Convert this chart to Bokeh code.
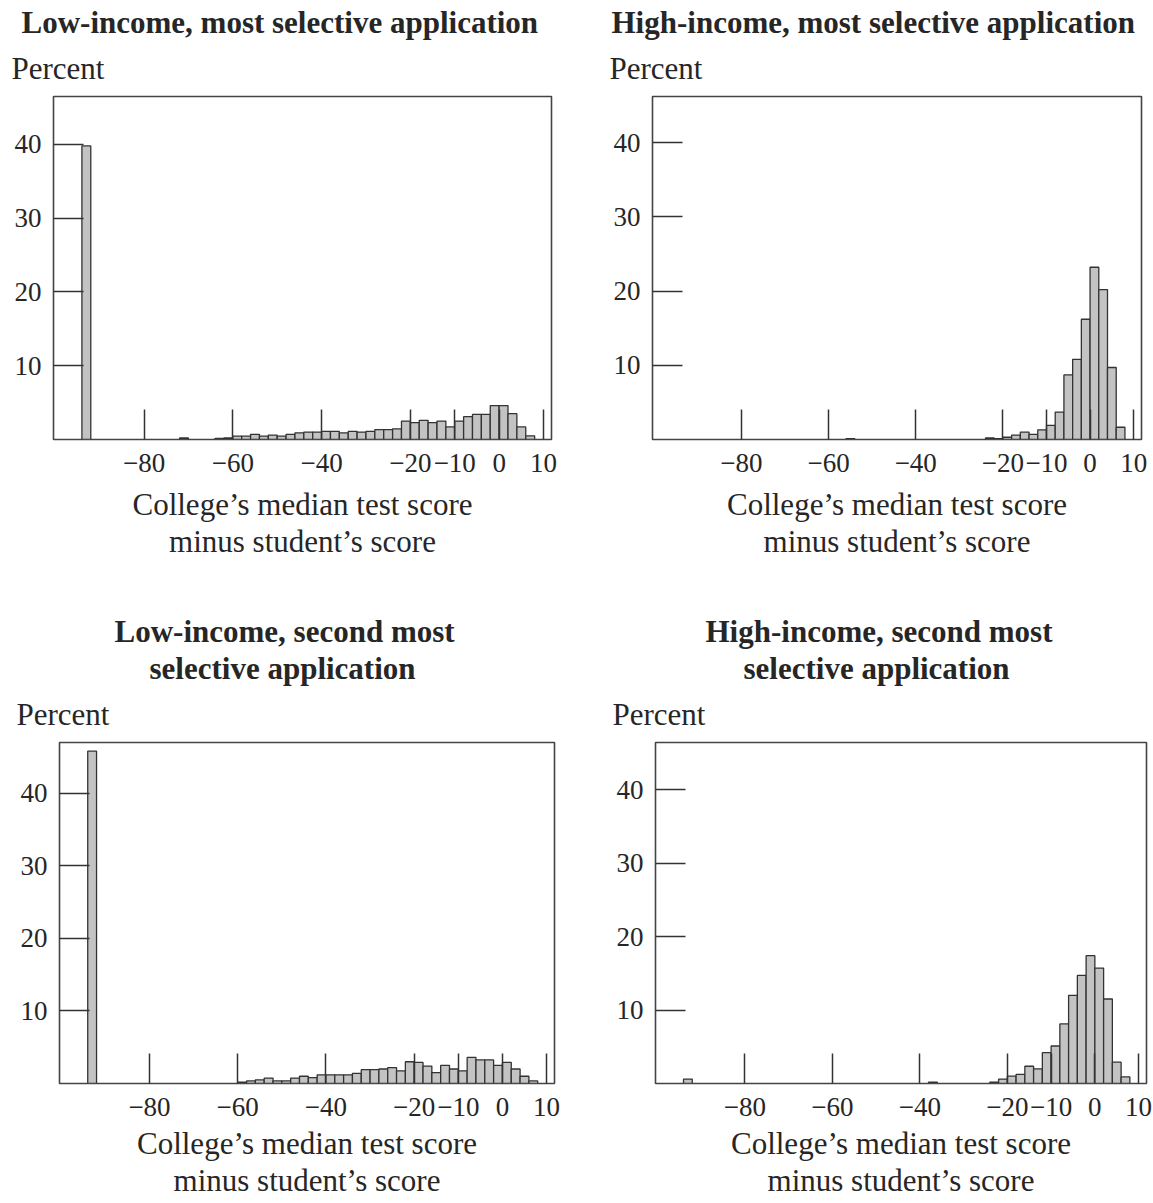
from bokeh.plotting import figure
from bokeh.layouts import column, row
from bokeh.models import Title, FixedTicker, Range1d, ColumnDataSource
from bokeh.embed import file_html
from bokeh.resources import INLINE

# ---------------- data (percent of applications per 2-point bin) ----------------
x_ticks = [-80, -60, -40, -20, -10, 0, 10]
x_tick_labels = ["\u221280", "\u221260", "\u221240", "\u221220", "\u221210", "0", "10"]
y_ticks = [10, 20, 30, 40]
y_tick_labels = ["10", "20", "30", "40"]

# Low-income, most selective application
tl_bin = [-94, -72, -64, -62, -60, -58, -56, -54, -52, -50, -48, -46, -44, -42, -40, -38,
          -36, -34, -32, -30, -28, -26, -24, -22, -20, -18, -16, -14, -12, -10, -8, -6,
          -4, -2, 0, 2, 4, 6]
tl_pct = [39.8, 0.2, 0.15, 0.2, 0.45, 0.45, 0.7, 0.45, 0.6, 0.45, 0.7, 0.9, 1.0, 1.0, 1.1, 1.1,
          0.9, 1.1, 1.0, 1.1, 1.35, 1.35, 1.45, 2.5, 2.3, 2.6, 2.3, 2.5, 1.7, 2.5, 3.1, 3.4,
          3.4, 4.6, 4.6, 3.5, 1.7, 0.5]

# High-income, most selective application
tr_bin = [-56, -24, -22, -20, -18, -16, -14, -12, -10, -8, -6, -4, -2, 0, 2, 4, 6]
tr_pct = [0.1, 0.2, 0.1, 0.3, 0.6, 1.0, 0.7, 1.3, 1.9, 3.7, 8.7, 10.8, 16.2, 23.2, 20.2, 9.7, 1.65]

# Low-income, second most selective application
bl_bin = [-94, -60, -58, -56, -54, -52, -50, -48, -46, -44, -42, -40, -38, -36, -34, -32,
          -30, -28, -26, -24, -22, -20, -18, -16, -14, -12, -10, -8, -6, -4, -2, 0, 2, 4, 6]
bl_pct = [45.8, 0.2, 0.35, 0.5, 0.75, 0.35, 0.35, 0.75, 1.0, 0.8, 1.2, 1.2, 1.2, 1.2, 1.4, 1.9,
          1.9, 2.0, 2.2, 1.75, 3.0, 2.9, 2.4, 1.5, 2.5, 2.0, 1.75, 3.6, 3.25, 3.25, 2.5, 2.9,
          2.0, 1.0, 0.35]

# High-income, second most selective application
br_bin = [-94, -38, -24, -22, -20, -18, -16, -14, -12, -10, -8, -6, -4, -2, 0, 2, 4, 6]
br_pct = [0.6, 0.2, 0.2, 0.6, 1.0, 1.25, 2.35, 2.0, 4.2, 5.1, 8.1, 12.0, 14.7, 17.4, 15.7,
          11.5, 2.9, 0.9]

titles = [["Low-income, most selective application"],
          ["High-income, most selective application"],
          ["Low-income, second most", "selective application"],
          ["High-income, second most", "selective application"]]
y_title = "Percent"
x_title = "College\u2019s median test score\nminus student\u2019s score"

BIN_W = 2
FONT = "Liberation Serif"
TXT = "#262626"
INK = "#333333"


def panel(bins, pct, title_lines, title_offs, w, h, bl, br, bt, bb, ymax, p_off, lab_off):
    p = figure(width=w, height=h, output_backend="svg", toolbar_location=None,
               x_range=Range1d(-100.4, 11.8), y_range=Range1d(0, ymax),
               min_border_left=bl, min_border_right=br, min_border_top=bt,
               min_border_bottom=bb, title=None)
    src = ColumnDataSource(dict(left=bins, right=[b + BIN_W for b in bins], top=pct))
    p.quad(left="left", right="right", bottom=0, top="top", source=src,
           fill_color="#c3c3c3", line_color=INK, line_width=1.3)
    p.grid.visible = False
    p.outline_line_color = "#444444"
    p.outline_line_width = 1.6
    p.outline_line_alpha = 1
    p.background_fill_color = "white"
    p.border_fill_color = "white"

    for ax in (p.xaxis[0], p.yaxis[0]):
        ax.axis_line_color = None
        ax.major_tick_in = 30
        ax.major_tick_out = 0
        ax.minor_tick_line_color = None
        ax.major_tick_line_color = INK
        ax.major_tick_line_width = 1.5
        ax.major_label_text_font = FONT
        ax.major_label_text_font_size = "27px"
        ax.major_label_text_color = TXT

    p.xaxis.ticker = FixedTicker(ticks=x_ticks)
    p.xaxis.major_label_overrides = dict(zip(x_ticks, x_tick_labels))
    p.xaxis.major_label_standoff = 14
    p.xaxis.axis_label = x_title
    p.xaxis.axis_label_text_font = FONT
    p.xaxis.axis_label_text_font_size = "31px"
    p.xaxis.axis_label_text_font_style = "normal"
    p.xaxis.axis_label_text_line_height = 1.08
    p.xaxis.axis_label_text_color = TXT
    p.xaxis.axis_label_standoff = lab_off

    p.yaxis.ticker = FixedTicker(ticks=y_ticks)
    p.yaxis.major_label_overrides = dict(zip(y_ticks, y_tick_labels))
    p.yaxis.major_label_standoff = 12
    p.yaxis.major_label_orientation = "horizontal"

    # stacked from the frame outward
    p.add_layout(Title(text=y_title, align="left", offset=p_off, text_font=FONT,
                       text_font_size="31px", text_font_style="normal",
                       vertical_align="middle", text_color=TXT, standoff=20), "above")
    for line, off in zip(reversed(title_lines), reversed(title_offs)):
        p.add_layout(Title(text=line, align="left", offset=off, text_font=FONT,
                           text_font_size="31px", text_font_style="bold",
                           vertical_align="bottom", text_color=TXT, standoff=0), "above")
    return p


p1 = panel(tl_bin, tl_pct, titles[0], [-32], 576, 600, 53, 25, 96, 160, 46.5, -42, 12)
p2 = panel(tr_bin, tr_pct, titles[1], [-41], 577, 600, 76, 12, 95, 161, 46.2, -43, 12)
p3 = panel(bl_bin, bl_pct, titles[2], [55, 90], 576, 603, 59, 22, 142, 119, 47.0, -43, 7)
p4 = panel(br_bin, br_pct, titles[3], [50, 88], 577, 603, 79, 7, 141, 120, 46.4, -43, 7)

layout = column(row(p1, p2), row(p3, p4))

open("out.html", "w").write(file_html(layout, INLINE))
